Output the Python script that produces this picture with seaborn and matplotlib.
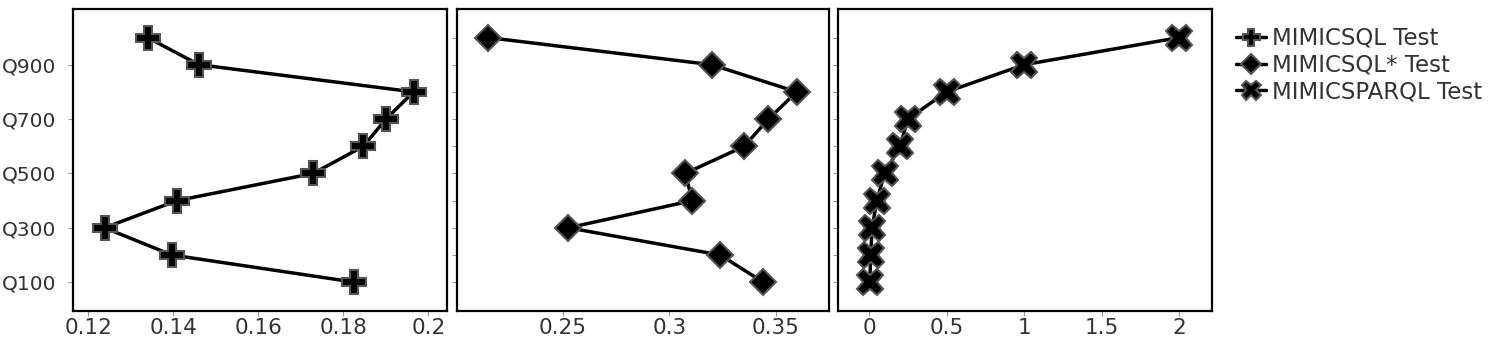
import matplotlib
matplotlib.use("Agg")
import matplotlib.pyplot as plt
import seaborn as sns
import numpy as np
import pandas as pd

# ---- data ----
queries = ["Q100", "Q200", "Q300", "Q400", "Q500", "Q600", "Q700", "Q800", "Q900", "Q1000"]
query_pos = [100, 200, 300, 400, 500, 600, 700, 800, 900, 1000]
mimicsql = [0.1826, 0.1396, 0.1238, 0.1408, 0.1729, 0.1847, 0.1900, 0.1965, 0.1460, 0.1339]
mimicsql_star = [0.3440, 0.3238, 0.2526, 0.3108, 0.3074, 0.3351, 0.3464, 0.3597, 0.3199, 0.2148]
mimicsparql = [0.005, 0.01, 0.02, 0.05, 0.1, 0.2, 0.25, 0.5, 1.0, 2.0]
series_names = ["MIMICSQL Test", "MIMICSQL* Test", "MIMICSPARQL Test"]

sns.set_theme(style="white")
plt.rcParams["font.family"] = ["DejaVu Sans"]

fig = plt.figure(figsize=(15, 3.5), dpi=100)
bottom, height = 0.1123, 0.862
positions = [(0.0485, 0.2493), (0.3045, 0.2484), (0.5589, 0.2489)]
series = [mimicsql, mimicsql_star, mimicsparql]
markers = ["P", "D", "X"]
msizes = [17, 13.5, 19]
xlims = [(0.1163, 0.2043), (0.2003, 0.375), (-0.198, 2.209)]
xticks = [[0.12, 0.14, 0.16, 0.18, 0.2], [0.25, 0.3, 0.35], [0, 0.5, 1, 1.5, 2]]
xticklabels = [["0.12", "0.14", "0.16", "0.18", "0.2"], ["0.25", "0.3", "0.35"],
               ["0", "0.5", "1", "1.5", "2"]]

tick_color = "#333333"
handles = []
for i, (pos, vals) in enumerate(zip(positions, series)):
    ax = fig.add_axes([pos[0], bottom, pos[1], height])
    df = pd.DataFrame({"x": vals, "y": query_pos})
    sns.lineplot(data=df, x="x", y="y", orient="y", sort=False, ax=ax,
                 color="black", linewidth=2.5, marker=markers[i],
                 markersize=msizes[i], markerfacecolor="black",
                 markeredgecolor="#555555", markeredgewidth=1.5,
                 label=series_names[i], legend=False)
    handles.append(ax.lines[0])
    ax.set_xlim(*xlims[i])
    ax.set_ylim(-5, 1105)
    ax.set_xticks(xticks[i])
    ax.set_xticklabels(xticklabels[i])
    if i == 0:
        ax.set_yticks(query_pos[::2])
        ax.set_yticklabels(queries[::2])
    else:
        ax.set_yticks(query_pos)
        ax.set_yticklabels([])
    ax.set_xlabel("")
    ax.set_ylabel("")
    for s in ax.spines.values():
        s.set_color("black")
        s.set_linewidth(1.6)
    ax.tick_params(axis="both", which="both", direction="out", length=3.6, width=0.8,
                   color="#999999", labelcolor=tick_color,
                   bottom=True, left=True)
    ax.tick_params(axis="x", pad=2, labelsize=15.5)
    ax.tick_params(axis="y", pad=8.5, labelsize=14.5)
    ax.grid(False)

leg = fig.legend(handles=handles, labels=series_names, loc="upper left",
                 bbox_to_anchor=(0.818, 0.95), frameon=False, fontsize=16.5,
                 handlelength=1.3, handletextpad=0.25, labelspacing=0.17,
                 markerscale=0.72, borderaxespad=0)
for t in leg.get_texts():
    t.set_color(tick_color)

fig.savefig("out.png", dpi=100)
